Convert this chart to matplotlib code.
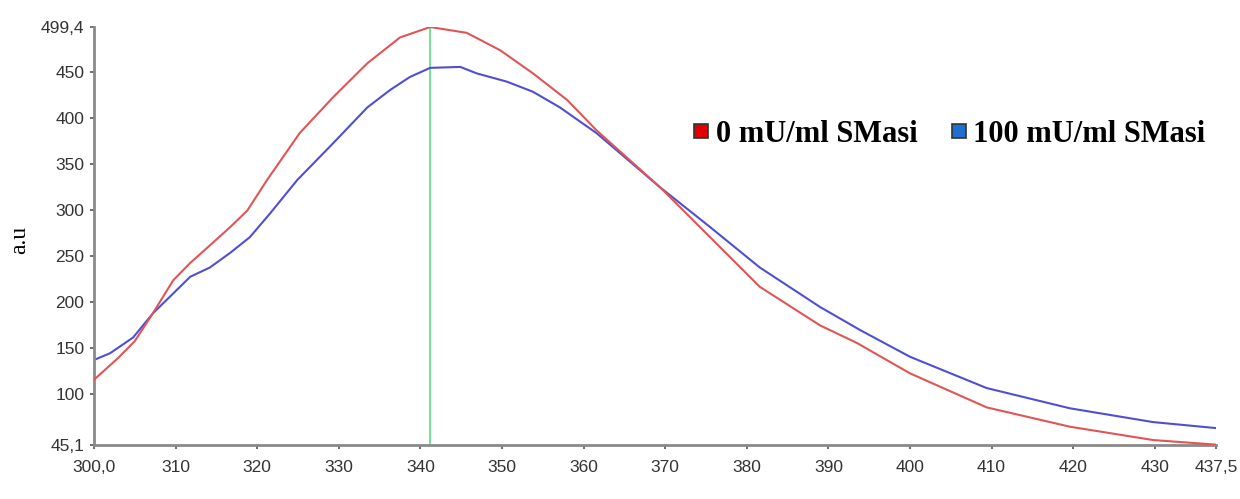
import numpy as np
import matplotlib.pyplot as plt
from matplotlib.lines import Line2D

nm_0 = [300, 303, 305, 307.2, 309.7, 311.8, 314.2, 316.7, 318.8, 321.2, 325.2,
        329.3, 333.5, 337.5, 341.2, 345.7, 349.8, 353.8, 358, 361.6, 369.4, 375.5,
        381.6, 389, 393.5, 400, 409.4, 419.6, 429.8, 437.5]
au_0 = [116, 140, 158, 188, 224, 243, 262, 282, 300, 333, 384,
        423, 460, 488, 499.4, 493, 474, 449, 420, 387, 325, 271,
        217, 175, 156, 123, 86, 65, 50.5, 45.5]

nm_100 = [300, 302, 304.8, 307.2, 311.8, 314.2, 316.7, 319.1, 321.6, 324.9, 329.3,
          333.5, 336.3, 338.7, 341.2, 344.9, 346.9, 350.6, 353.8, 357.1, 361.6, 369.4,
          375.5, 381.6, 389, 393.9, 400, 409.4, 419.6, 429.8, 437.5]
au_100 = [137.5, 145, 162, 188, 228, 238, 254, 271, 297, 333, 373,
          412, 431, 445, 455, 456, 449, 440, 429, 412, 384, 325,
          282, 238, 195, 170, 141, 107, 85, 70, 63.5]

pico = 341.2
xticks = [300, 310, 320, 330, 340, 350, 360, 370, 380, 390, 400, 410, 420, 430, 437.5]
xlabels = ['300,0', '310', '320', '330', '340', '350', '360', '370', '380', '390',
           '400', '410', '420', '430', '437,5']
yticks = [45.1, 100, 150, 200, 250, 300, 350, 400, 450, 499.4]
ylabels = ['45,1', '100', '150', '200', '250', '300', '350', '400', '450', '499,4']
series = ['0 mU/ml SMasi', '100 mU/ml SMasi']

fig = plt.figure(figsize=(12.4, 4.99), dpi=100)
ax = fig.add_axes([0.0758, 0.1082, 0.9048, 0.8377])

ax.axvline(pico, color='#66e08a', lw=1.3, zorder=1)
ax.plot(nm_0, au_0, color='#e05555', lw=1.5, zorder=3)
ax.plot(nm_100, au_100, color='#4f4fd6', lw=1.5, zorder=2)

ax.set_xlim(300, 437.5)
ax.set_ylim(45.1, 499.4)
ax.set_xticks(xticks)
ax.set_xticklabels(xlabels)
ax.set_yticks(yticks)
ax.set_yticklabels(ylabels)
ax.tick_params(labelsize=12.5, labelcolor='#333333', color='#555555', length=3,
               width=1.2, direction='out')
for lab in ax.get_xticklabels() + ax.get_yticklabels():
    lab.set_family('Liberation Sans')
ax.tick_params(axis='x', pad=8)
ax.tick_params(axis='y', pad=4)

for s in ['top', 'right']:
    ax.spines[s].set_visible(False)
for s in ['left', 'bottom']:
    ax.spines[s].set_color('#8a8a8a')
    ax.spines[s].set_linewidth(2)

ax.set_ylabel('a.u', family='Liberation Serif', fontsize=17)
ax.yaxis.set_label_coords(-0.057, 0.49)
ax.set_xlabel('nm', family='Liberation Sans', fontsize=12, color='#333333')
ax.xaxis.set_label_coords(0.49, -0.135)

handles = [
    Line2D([], [], ls='none', marker='s', markersize=10.5, markerfacecolor='#e00000',
           markeredgecolor='#333333', markeredgewidth=1.2),
    Line2D([], [], ls='none', marker='s', markersize=10.5, markerfacecolor='#1f6fd0',
           markeredgecolor='#333333', markeredgewidth=1.2),
]
fig.legend(handles, series, loc='center left', bbox_to_anchor=(0.5595, 0.731), ncol=2,
           frameon=False, handlelength=0.5, handletextpad=0.22, columnspacing=1.1,
           borderpad=0, borderaxespad=0,
           prop={'family': 'Liberation Serif', 'weight': 'bold', 'size': 22})

fig.savefig('out.png', dpi=100)
